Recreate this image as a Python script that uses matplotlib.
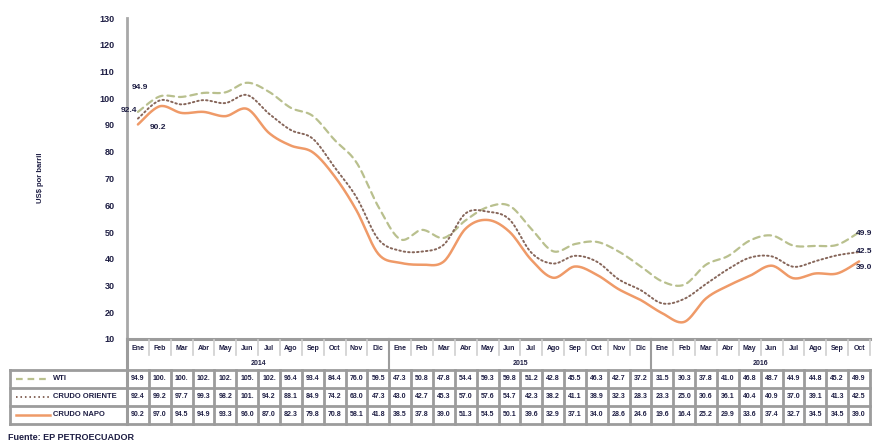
import numpy as np
import matplotlib
matplotlib.use("Agg")
import matplotlib.pyplot as plt
from matplotlib.lines import Line2D

# ---- data -------------------------------------------------------------
months = ["Ene", "Feb", "Mar", "Abr", "May", "Jun", "Jul", "Ago", "Sep", "Oct", "Nov", "Dic",
          "Ene", "Feb", "Mar", "Abr", "May", "Jun", "Jul", "Ago", "Sep", "Oct", "Nov", "Dic",
          "Ene", "Feb", "Mar", "Abr", "May", "Jun", "Jul", "Ago", "Sep", "Oct"]
years = ["2014", "2015", "2016"]
year_counts = [12, 12, 10]

wti = [94.9, 100.7, 100.5, 102.0, 102.2, 105.8, 102.4, 96.4, 93.4, 84.4, 76.0, 59.5,
       47.3, 50.8, 47.8, 54.4, 59.3, 59.8, 51.2, 42.8, 45.5, 46.3, 42.7, 37.2,
       31.5, 30.3, 37.8, 41.0, 46.8, 48.7, 44.9, 44.8, 45.2, 49.9]
oriente = [92.4, 99.2, 97.7, 99.3, 98.2, 101.2, 94.2, 88.1, 84.9, 74.2, 63.0, 47.3,
           43.0, 42.7, 45.3, 57.0, 57.6, 54.7, 42.3, 38.2, 41.1, 38.9, 32.3, 28.3,
           23.3, 25.0, 30.6, 36.1, 40.4, 40.9, 37.0, 39.1, 41.3, 42.5]
napo = [90.2, 97.0, 94.5, 94.9, 93.3, 96.0, 87.0, 82.3, 79.8, 70.8, 58.1, 41.8,
        38.5, 37.8, 39.0, 51.3, 54.5, 50.1, 39.6, 32.9, 37.1, 34.0, 28.6, 24.6,
        19.6, 16.4, 25.2, 29.9, 33.6, 37.4, 32.7, 34.5, 34.5, 39.0]

series_names = ["WTI", "CRUDO ORIENTE", "CRUDO NAPO"]
series_vals = [wti, oriente, napo]

# ---- styling ----------------------------------------------------------
W, H = 873, 446
TXT = "#1e1e44"
GRID = "#9c9c9c"
LIGHT = "#cfcfcf"
styles = [
    dict(color="#b9c08e", lw=1.6, ls=(0, (3.0, 2.2))),
    dict(color="#86665a", lw=1.4, ls=(0, (0.8, 1.5))),
    dict(color="#ef9a68", lw=1.8, ls="-"),
]
FONT = "Liberation Sans"


def fx(x):
    return x / W


def fy(y):
    return 1 - y / H


def smooth(vals, n=20):
    """Bezier smoothing through every point (Catmull-Rom control points)."""
    p = np.column_stack([np.arange(len(vals), dtype=float), np.asarray(vals, float)])
    ext = np.vstack([p[0], p, p[-1]])
    out = []
    t = np.linspace(0, 1, n, endpoint=False)[:, None]
    for i in range(len(p) - 1):
        p0, p1, p2, p3 = ext[i], ext[i + 1], ext[i + 2], ext[i + 3]
        c1 = p1 + (p2 - p0) / 6
        c2 = p2 - (p3 - p1) / 6
        seg = ((1 - t) ** 3) * p1 + 3 * ((1 - t) ** 2) * t * c1 + 3 * (1 - t) * t ** 2 * c2 + t ** 3 * p2
        out.append(seg)
    out.append(p[-1][None, :])
    s = np.vstack(out)
    return s[:, 0], s[:, 1]


fig = plt.figure(figsize=(W / 100, H / 100), dpi=100)

X0, X1 = 127, 870
Y_TOP, Y_BOT = 18, 339
n = len(months)
cw = (X1 - X0) / n

ax = fig.add_axes([fx(X0), fy(Y_BOT), (X1 - X0) / W, (Y_BOT - Y_TOP) / H])
ax.set_xlim(-0.5, n - 0.5)
ax.set_ylim(10, 130)
ax.set_yticks(np.arange(10, 131, 10))
ax.set_xticks([])
for s in ["top", "right", "bottom"]:
    ax.spines[s].set_visible(False)
ax.spines["left"].set_color("#a8a8a8")
ax.spines["left"].set_linewidth(2)
ax.tick_params(axis="y", length=0, pad=9, labelsize=6.5, labelcolor=TXT)
for lab in ax.get_yticklabels():
    lab.set_fontweight("bold")
    lab.set_fontfamily(FONT)
ax.patch.set_alpha(0)

for vals, st in zip(series_vals, styles):
    xs, ys = smooth(vals)
    ax.plot(xs, ys, color=st["color"], lw=st["lw"], ls=st["ls"], solid_capstyle="round",
            dash_capstyle="round", clip_on=False)

lab_kw = dict(textcoords="offset pixels", fontsize=6, fontweight="bold", color=TXT,
              family=FONT, va="center")
ax.annotate(f"{wti[0]:.1f}", (0, wti[0]), xytext=(-6, 24), ha="left", **lab_kw)
ax.annotate(f"{oriente[0]:.1f}", (0, oriente[0]), xytext=(-1, 8), ha="right", **lab_kw)
ax.annotate(f"{napo[0]:.1f}", (0, napo[0]), xytext=(12, -3), ha="left", **lab_kw)
ax.annotate(f"{wti[-1]:.1f}", (n - 1, wti[-1]), xytext=(-3, -1), ha="left", **lab_kw)
ax.annotate(f"{oriente[-1]:.1f}", (n - 1, oriente[-1]), xytext=(-3, 1), ha="left", **lab_kw)
ax.annotate(f"{napo[-1]:.1f}", (n - 1, napo[-1]), xytext=(-3, -6), ha="left", **lab_kw)

fig.text(fx(40), fy(178), "US$ por barril", rotation=90, ha="center", va="center",
         fontsize=5.5, fontweight="bold", color=TXT, family=FONT)

# ---- data table -------------------------------------------------------
def hline(x0, x1, y, color=GRID, lw=1.5):
    fig.add_artist(Line2D([fx(x0), fx(x1)], [fy(y), fy(y)], color=color, lw=lw))


def vline(x, y0, y1, color=GRID, lw=1.5):
    fig.add_artist(Line2D([fx(x), fx(x)], [fy(y0), fy(y1)], color=color, lw=lw))


HDR_TOP, HDR_MID, HDR_BOT = 339, 355, 370
row_edges = [370, 388, 406, 424]
LEG_X0 = 10

hline(X0, X1, HDR_TOP, lw=2.2)
vline(X0, HDR_TOP, row_edges[-1], lw=2.2)

for i, m in enumerate(months):
    xc = X0 + cw * (i + 0.5)
    fig.text(fx(xc), fy((HDR_TOP + HDR_MID) / 2 + 1), m, ha="center", va="center",
             fontsize=5, fontweight="bold", color=TXT, family=FONT)
    if i > 0:
        vline(X0 + cw * i, HDR_TOP + 1, HDR_MID, color=LIGHT, lw=1.2)
vline(X1, HDR_TOP + 1, HDR_MID, color=LIGHT, lw=1.2)

start = 0
for yr, c in zip(years, year_counts):
    xa, xb = X0 + cw * start, X0 + cw * (start + c)
    fig.text(fx((xa + xb) / 2), fy((HDR_MID + HDR_BOT) / 2 + 1), yr, ha="center", va="center",
             fontsize=5, fontweight="bold", color=TXT, family=FONT)
    if start > 0:
        vline(xa, HDR_TOP, HDR_BOT, lw=1.5)
    start += c

for y in row_edges:
    hline(LEG_X0, X1, y, lw=2.0)
vline(LEG_X0, row_edges[0], row_edges[-1], lw=2.0)
for i in range(1, n + 1):
    vline(X0 + cw * i, row_edges[0], row_edges[-1], lw=2.0)

for r, (name, vals, st) in enumerate(zip(series_names, series_vals, styles)):
    yc = (row_edges[r] + row_edges[r + 1]) / 2
    fig.add_artist(Line2D([fx(16), fx(50)], [fy(yc), fy(yc)], color=st["color"],
                          lw=st["lw"], ls=st["ls"]))
    fig.text(fx(53), fy(yc), name, ha="left", va="center", fontsize=5.5,
             fontweight="bold", color=TXT, family=FONT)
    for i, v in enumerate(vals):
        xc = X0 + cw * (i + 0.5)
        fig.text(fx(xc), fy(yc), f"{v:.1f}"[:4], ha="center", va="center",
                 fontsize=5, fontweight="bold", color=TXT, family=FONT)

fig.text(fx(8), fy(438), "Fuente: EP PETROECUADOR", ha="left", va="center",
         fontsize=6.5, fontweight="bold", color=TXT, family=FONT)

fig.savefig("out.png", dpi=100, facecolor="white")
